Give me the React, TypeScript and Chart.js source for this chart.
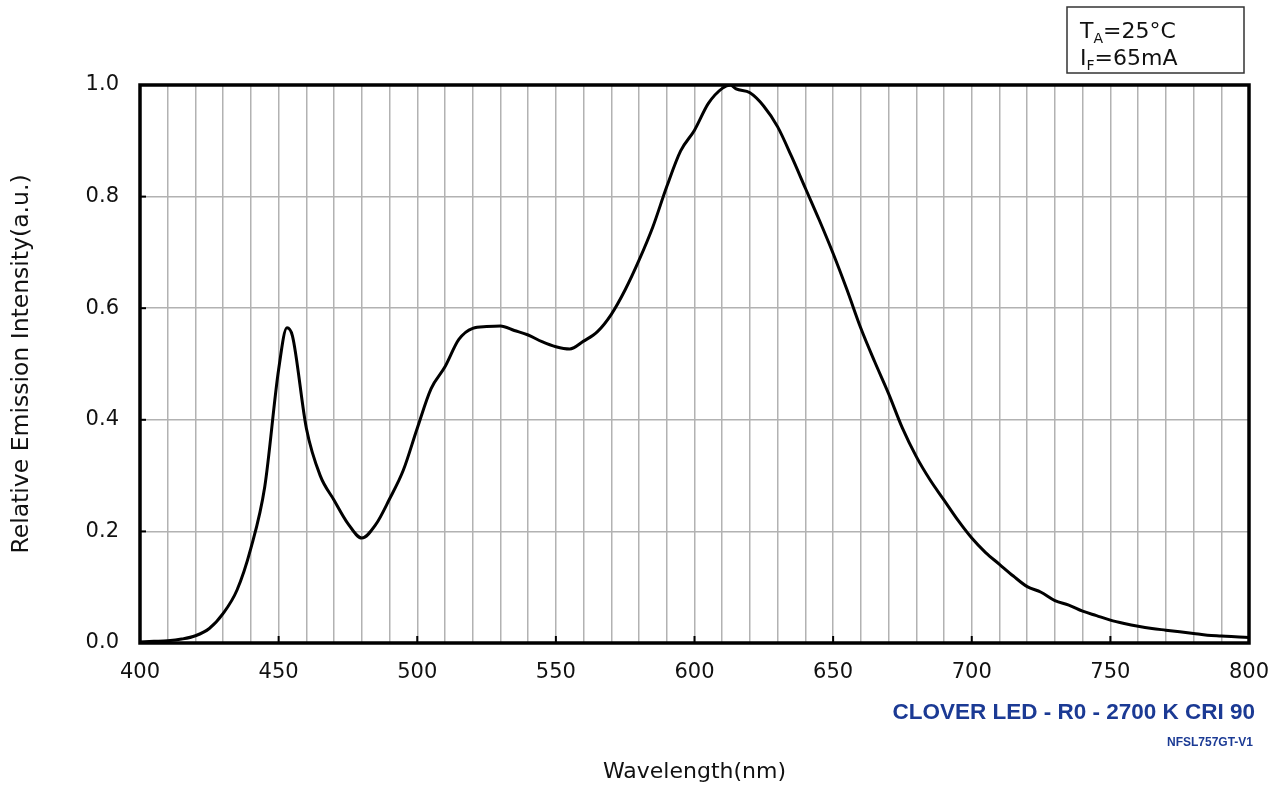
import React, { useEffect, useRef } from "react";
import { Chart, registerables } from "chart.js";

Chart.register(...registerables);

const wavelengths = [
  400, 405, 410, 415, 420, 425, 430, 435, 440, 445, 450, 453, 455, 460, 465, 470, 475, 480, 485, 490,
  495, 500, 505, 510, 515, 520, 525, 530, 535, 540, 545, 550, 555, 560, 565, 570, 575, 580, 585, 590,
  595, 600, 605, 610, 613, 615, 620, 625, 630, 635, 640, 645, 650, 655, 660, 665, 670, 675, 680, 685,
  690, 695, 700, 705, 710, 715, 720, 725, 730, 735, 740, 745, 750, 755, 760, 765, 770, 775, 780, 785,
  790, 795, 800,
];
const intensity = [
  0.002, 0.003, 0.004, 0.007, 0.013, 0.026, 0.053, 0.095, 0.17, 0.28, 0.49, 0.565, 0.55, 0.385, 0.3, 0.256, 0.214, 0.188, 0.212, 0.258,
  0.31, 0.385, 0.456, 0.495, 0.544, 0.564, 0.567, 0.568, 0.56, 0.552, 0.54, 0.531, 0.527, 0.541, 0.558, 0.589, 0.633, 0.686, 0.746, 0.818,
  0.882, 0.919, 0.967, 0.994, 1.0, 0.993, 0.986, 0.962, 0.925, 0.872, 0.815, 0.758, 0.698, 0.633, 0.564, 0.504, 0.447, 0.385, 0.334, 0.292,
  0.256, 0.22, 0.188, 0.162, 0.141, 0.12, 0.101, 0.091, 0.076, 0.068, 0.057, 0.049, 0.041, 0.035, 0.03, 0.026, 0.023, 0.02, 0.017, 0.014,
  0.0125, 0.011, 0.01,
];
const xLabelValues = [400, 450, 500, 550, 600, 650, 700, 750, 800];
const yLabelValues = [0, 0.2, 0.4, 0.6, 0.8, 1.0];
const xTitle = "Wavelength(nm)";
const yTitle = "Relative Emission Intensity(a.u.)";
const productTitle = "CLOVER LED - R0 - 2700 K CRI 90";
const productCode = "NFSL757GT-V1";
const condLines = [
  { main: "T", sub: "A", rest: "=25°C" },
  { main: "I", sub: "F", rest: "=65mA" },
];

const FONT = "'DejaVu Sans', Verdana, sans-serif";

const decorPlugin = {
  id: "decor",
  afterDatasetsDraw(chart: any) {
    const { ctx, chartArea, scales } = chart;
    const { left, right, top, bottom } = chartArea;
    ctx.save();
    ctx.strokeStyle = "#000";
    ctx.lineWidth = 2;
    xLabelValues.forEach((v) => {
      if (v === 400 || v === 800) return;
      const x = scales.x.getPixelForValue(v);
      ctx.beginPath();
      ctx.moveTo(x, bottom);
      ctx.lineTo(x, bottom - 7);
      ctx.stroke();
    });
    yLabelValues.forEach((v) => {
      if (v === 0 || v === 1) return;
      const y = scales.y.getPixelForValue(v);
      ctx.beginPath();
      ctx.moveTo(left, y);
      ctx.lineTo(left + 6, y);
      ctx.stroke();
    });
    ctx.lineWidth = 3.5;
    ctx.strokeRect(left, top, right - left, bottom - top);
    ctx.restore();
  },
  afterDraw(chart: any) {
    const { ctx } = chart;
    ctx.save();
    ctx.fillStyle = "#fff";
    ctx.fillRect(1067, 7, 177, 66);
    ctx.strokeStyle = "#333";
    ctx.lineWidth = 1.5;
    ctx.strokeRect(1067, 7, 177, 66);
    ctx.fillStyle = "#111";
    ctx.textBaseline = "alphabetic";
    ctx.textAlign = "left";
    const baselines = [38, 65];
    condLines.forEach((ln, i) => {
      let x = 1080;
      const by = baselines[i];
      ctx.font = `22px ${FONT}`;
      ctx.fillText(ln.main, x, by);
      x += ctx.measureText(ln.main).width;
      ctx.font = `14px ${FONT}`;
      ctx.fillText(ln.sub, x, by + 5);
      x += ctx.measureText(ln.sub).width;
      ctx.font = `22px ${FONT}`;
      ctx.fillText(ln.rest, x, by);
    });
    ctx.fillStyle = "#1b3a94";
    ctx.textAlign = "right";
    ctx.textBaseline = "middle";
    ctx.font = `bold 22.5px 'Liberation Sans', Arial, sans-serif`;
    ctx.fillText(productTitle, 1255, 713);
    ctx.font = `bold 12px 'Liberation Sans', Arial, sans-serif`;
    ctx.fillText(productCode, 1253, 743);
    ctx.restore();
  },
};

export default function App() {
  const ref = useRef<HTMLCanvasElement | null>(null);
  useEffect(() => {
    if (!ref.current) return;
    const chart = new Chart(ref.current, {
      type: "line",
      data: {
        datasets: [
          {
            data: wavelengths.map((w, i) => ({ x: w, y: intensity[i] })),
            borderColor: "#000",
            borderWidth: 3,
            pointRadius: 0,
            fill: false,
            cubicInterpolationMode: "monotone",
          },
        ],
      },
      options: {
        animation: false,
        responsive: false,
        layout: { padding: { top: 85, right: 24, left: 0, bottom: 0 } },
        plugins: { legend: { display: false }, tooltip: { enabled: false } },
        scales: {
          x: {
            type: "linear",
            min: 400,
            max: 800,
            afterFit: (s: any) => {
              s.height = 146;
              s.paddingLeft = 0;
              s.paddingRight = 0;
            },
            border: { display: false },
            grid: { color: "#b2b2b2", lineWidth: 1.5, drawTicks: false },
            ticks: {
              stepSize: 10,
              maxTicksLimit: 100,
              autoSkip: false,
              maxRotation: 0,
              padding: 17,
              color: "#111",
              font: { family: FONT, size: 21 },
              callback: (v: any) => (xLabelValues.includes(Number(v)) ? String(v) : ""),
            },
            title: {
              display: true,
              text: xTitle,
              color: "#111",
              font: { family: FONT, size: 22 },
              padding: { top: 0, bottom: 4 },
            },
          },
          y: {
            min: 0,
            max: 1,
            afterFit: (s: any) => {
              s.width = 140;
            },
            border: { display: false },
            grid: { color: "#b2b2b2", lineWidth: 1.5, drawTicks: false },
            ticks: {
              stepSize: 0.2,
              padding: 21,
              color: "#111",
              font: { family: FONT, size: 21 },
              callback: (v: any) => Number(v).toFixed(1),
            },
            title: {
              display: true,
              text: yTitle,
              color: "#111",
              font: { family: FONT, size: 23.5 },
              padding: { top: 8, bottom: 0 },
            },
          },
        },
      },
      plugins: [decorPlugin],
    });
    return () => chart.destroy();
  }, []);
  return (
    <div style={{ position: "fixed", left: 0, top: 0, width: 1273, height: 789, background: "#fff" }}>
      <canvas ref={ref} width={1273} height={789} />
    </div>
  );
}
